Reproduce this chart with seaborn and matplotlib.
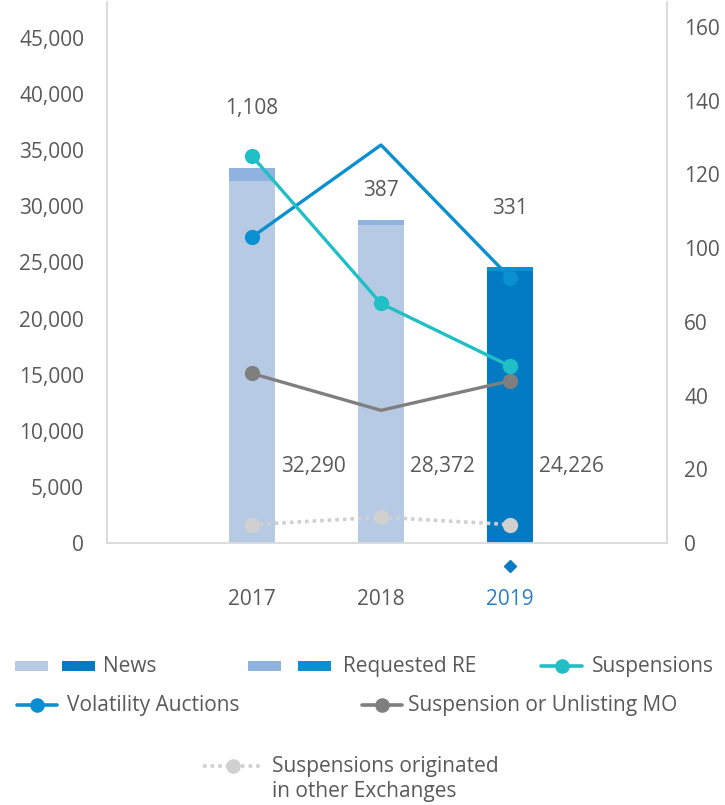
import numpy as np
import pandas as pd
import matplotlib
matplotlib.use("Agg")
import matplotlib.pyplot as plt
from matplotlib.lines import Line2D
from matplotlib.patches import Rectangle
import seaborn as sns

# ---- data -------------------------------------------------------------
years = ["2017", "2018", "2019"]
news = [32290, 28372, 24226]
requested_re = [1108, 387, 331]

suspensions = [125, 70, 48]
volatility_auctions = [103, 128, 84]
suspension_unlisting_mo = [46, 36, 44]
suspensions_other_exchanges = [5, 7, 5]

left_ticks = [0, 5000, 10000, 15000, 20000, 25000, 30000, 35000, 40000, 45000]
right_ticks = [0, 20, 40, 60, 100, 120, 140, 160]

# ---- style ------------------------------------------------------------
sns.set_theme(style="white")
plt.rcParams["font.family"] = ["Open Sans", "DejaVu Sans"]
TXT = "#595959"
FS = 15

news_colors = ["#b7cae4", "#b7cae4", "#037bc4"]
re_colors = ["#8fb3de", "#8fb3de", "#0b91d3"]
c_susp = "#20bfc6"
c_vol = "#0a90d1"
c_mo = "#7f7f7f"
c_other = "#d0d0d0"
c_spine = "#d9d9d9"

W, H = 725, 805
fig = plt.figure(figsize=(W / 100, H / 100), dpi=100)
ax = fig.add_axes([107 / W, 1 - 543 / H, (667 - 107) / W, (543 - 2) / H])

df = pd.DataFrame({
    "year": years,
    "news": news,
    "total": np.add(news, requested_re),
})

# stacked bars: total (news + requested RE) behind, news in front
sns.barplot(data=df, x="year", y="total", hue="year", palette=re_colors,
            width=0.357, saturation=1, linewidth=0, errorbar=None,
            legend=False, ax=ax)
sns.barplot(data=df, x="year", y="news", hue="year", palette=news_colors,
            width=0.357, saturation=1, linewidth=0, errorbar=None,
            legend=False, ax=ax)

ax.set_xlim(-1.124, 3.217)
ax.set_ylim(0, 48208)
ax.set_yticks(left_ticks)
ax.set_yticklabels([f"{v:,}" for v in left_ticks])
ax.set_xlabel("")
ax.set_ylabel("")
ax.tick_params(axis="y", length=0, pad=16.5, labelsize=FS, labelcolor=TXT)
ax.tick_params(axis="x", length=0, pad=33, labelsize=FS, labelcolor=TXT)
ax.get_xticklabels()[years.index("2019")].set_color("#2b7fc6")
for side in ["top", "right"]:
    ax.spines[side].set_visible(False)
for side in ["left", "bottom"]:
    ax.spines[side].set_color(c_spine)
    ax.spines[side].set_linewidth(1.3)

# value labels
xi = np.arange(len(years))
top_label_y = [0.804, 0.652, 0.619]
for i, v in enumerate(requested_re):
    ax.text(xi[i], top_label_y[i], f"{v:,}", transform=ax.get_xaxis_transform(),
            ha="center", va="center", fontsize=FS, color=TXT)
for i, v in enumerate(news):
    ax.text(xi[i] + 0.48, 0.1405, f"{v:,}", transform=ax.get_xaxis_transform(),
            ha="center", va="center", fontsize=FS, color=TXT)

# marker under the current year
ax.plot([xi[years.index("2019")]], [-0.0425], marker="D", markersize=6.5,
        color="#0a7bc6", linestyle="none", clip_on=False,
        transform=ax.get_xaxis_transform())

# ---- secondary axis (lines) ------------------------------------------
ax2 = ax.twinx()


def fwd(v):
    v = np.asarray(v, dtype=float)
    return np.where(v <= 60, v, np.where(v < 100, 60 + (v - 60) / 2, v - 20))


def inv(p):
    p = np.asarray(p, dtype=float)
    return np.where(p <= 60, p, np.where(p < 80, 60 + (p - 60) * 2, p + 20))


ax2.set_yscale("function", functions=(fwd, inv))
ax2.set_ylim(0, 166.8)
ax2.set_yticks(right_ticks)
ax2.set_yticklabels([str(v) for v in right_ticks])
ax2.yaxis.set_minor_locator(matplotlib.ticker.NullLocator())
ax2.tick_params(axis="y", length=0, pad=12.5, labelsize=FS, labelcolor=TXT)
for side in ["top", "left", "bottom"]:
    ax2.spines[side].set_visible(False)
ax2.spines["right"].set_color(c_spine)
ax2.spines["right"].set_linewidth(1.3)

sns.lineplot(x=xi, y=suspensions_other_exchanges, ax=ax2, color=c_other,
             linewidth=2.6, linestyle=(0, (1, 1.1)), marker="o", markersize=11,
             markeredgewidth=0, dash_capstyle="butt")
sns.lineplot(x=xi, y=suspension_unlisting_mo, ax=ax2, color=c_mo,
             linewidth=2.4, marker="o", markersize=11, markeredgewidth=0,
             markevery=[0, 2])
sns.lineplot(x=xi, y=volatility_auctions, ax=ax2, color=c_vol,
             linewidth=2.4, marker="o", markersize=11, markeredgewidth=0,
             markevery=[0, 2])
sns.lineplot(x=xi, y=suspensions, ax=ax2, color=c_susp,
             linewidth=2.4, marker="o", markersize=11, markeredgewidth=0)
ax2.set_ylabel("")
ax2.set_xlim(-1.124, 3.217)

# ---- legend (drawn in figure pixels) ---------------------------------
def fx(px):
    return px / W


def fy(py):
    return 1 - py / H


def swatch(x0, color, yc):
    fig.add_artist(Rectangle((fx(x0), fy(yc + 5)), 33 / W, 10 / H,
                             transform=fig.transFigure, color=color, lw=0))


def line_key(x0, x1, color, yc, ls="-"):
    fig.add_artist(Line2D([fx(x0), fx(x1)], [fy(yc), fy(yc)],
                          transform=fig.transFigure, color=color, lw=2.6,
                          linestyle=ls, dash_capstyle="butt"))
    fig.add_artist(Line2D([fx((x0 + x1) / 2)], [fy(yc)], transform=fig.transFigure,
                          color=color, marker="o", markersize=10.5,
                          markeredgewidth=0, linestyle="none"))


def label(x0, yc, s):
    fig.text(fx(x0), fy(yc), s, ha="left", va="center", fontsize=FS, color=TXT)


r1, r2 = 666, 705
swatch(15, news_colors[0], r1)
swatch(62, news_colors[2], r1)
label(103, r1, "News")
swatch(248, re_colors[0], r1)
swatch(298, re_colors[2], r1)
label(343, r1, "Requested RE")
line_key(541, 582, c_susp, r1)
label(592, r1, "Suspensions")

line_key(17, 57, c_vol, r2)
label(67, r2, "Volatility Auctions")
line_key(362, 402, c_mo, r2)
label(408, r2, "Suspension or Unlisting MO")

line_key(203, 263, c_other, 766, ls=(0, (1, 1.1)))
fig.text(fx(272), fy(779), "Suspensions originated\nin other Exchanges",
         ha="left", va="center", fontsize=FS, color=TXT, linespacing=1.25)

fig.savefig("out.png", dpi=100)
